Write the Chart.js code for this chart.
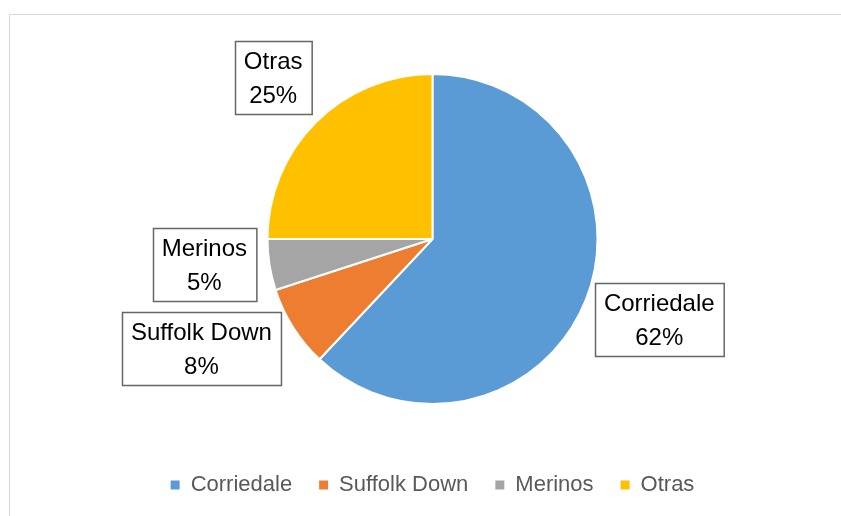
<!DOCTYPE html>
<html>
<head>
<meta charset="utf-8">
<script src="https://cdn.jsdelivr.net/npm/chart.js@4"></script>
<style>
  html, body { margin: 0; padding: 0; background: #fff; overflow: hidden; }
  #frame { position: absolute; left: 9px; top: 14px; width: 860px; height: 540px; border: 1px solid #d9d9d9; }
  #wrap { position: absolute; left: 0; top: 0; width: 841px; height: 506px; }
</style>
</head>
<body>
<div id="frame"></div>
<div id="wrap"><canvas id="razas"></canvas></div>
<script>
const breeds = ['Corriedale', 'Suffolk Down', 'Merinos', 'Otras'];
const shares = [62, 8, 5, 25];
const sliceColors = ['#5B9BD5', '#ED7D31', '#A5A5A5', '#FFC000'];

// nudges (px) for each label box, from its default spot at 1.4x radius on the slice mid-angle
const labelNudge = [[12, -5], [-36, -14], [0, -11], [4, 2]];

const FONT = '"Liberation Sans", Arial, sans-serif';

// boxed "name / percent" labels outside the slices
const boxLabels = {
    id: 'boxLabels',
    afterDatasetsDraw(chart) {
        const ctx = chart.ctx;
        const meta = chart.getDatasetMeta(0);
        const total = shares.reduce((a, b) => a + b, 0);
        ctx.save();
        ctx.font = '24px ' + FONT;
        meta.data.forEach((arc, i) => {
            const p = arc.getProps(['x', 'y', 'startAngle', 'endAngle', 'outerRadius'], true);
            const mid = (p.startAngle + p.endAngle) / 2;
            const cx = p.x + Math.cos(mid) * p.outerRadius * 1.4 + labelNudge[i][0];
            const cy = p.y + Math.sin(mid) * p.outerRadius * 1.4 + labelNudge[i][1];
            const lines = [breeds[i], Math.round(shares[i] / total * 100) + '%'];
            const w = Math.max(...lines.map(t => ctx.measureText(t).width)) + 18;
            const h = 73;
            const x0 = Math.round(cx - w / 2) + 0.5;
            const y0 = Math.round(cy - h / 2) + 0.5;
            ctx.fillStyle = '#fff';
            ctx.fillRect(x0, y0, w, h);
            ctx.strokeStyle = '#666';
            ctx.lineWidth = 1.5;
            ctx.strokeRect(x0, y0, w, h);
            ctx.fillStyle = '#000';
            ctx.textAlign = 'center';
            ctx.textBaseline = 'alphabetic';
            ctx.fillText(lines[0], cx, cy - 8.5);
            ctx.fillText(lines[1], cx, cy + 25.5);
        });
        ctx.restore();
    }
};

new Chart(document.getElementById('razas'), {
    type: 'pie',
    data: {
        labels: breeds,
        datasets: [{
            data: shares,
            backgroundColor: sliceColors,
            borderColor: '#fff',
            borderWidth: 2,
            radius: 165
        }]
    },
    options: {
        responsive: true,
        maintainAspectRatio: false,
        animation: false,
        layout: { padding: { top: 31, bottom: 0, left: 24, right: 0 } },
        plugins: {
            legend: {
                position: 'bottom',
                labels: {
                    boxWidth: 9,
                    boxHeight: 9,
                    padding: 27,
                    color: '#595959',
                    font: { family: FONT, size: 22 },
                    // plain filled squares, without the white slice border
                    generateLabels(chart) {
                        const items = Chart.controllers.pie.overrides.plugins.legend.labels.generateLabels(chart);
                        return items.map(item => Object.assign(item, { lineWidth: 0 }));
                    }
                }
            },
            tooltip: { enabled: false }
        }
    },
    plugins: [boxLabels]
});
</script>
</body>
</html>
